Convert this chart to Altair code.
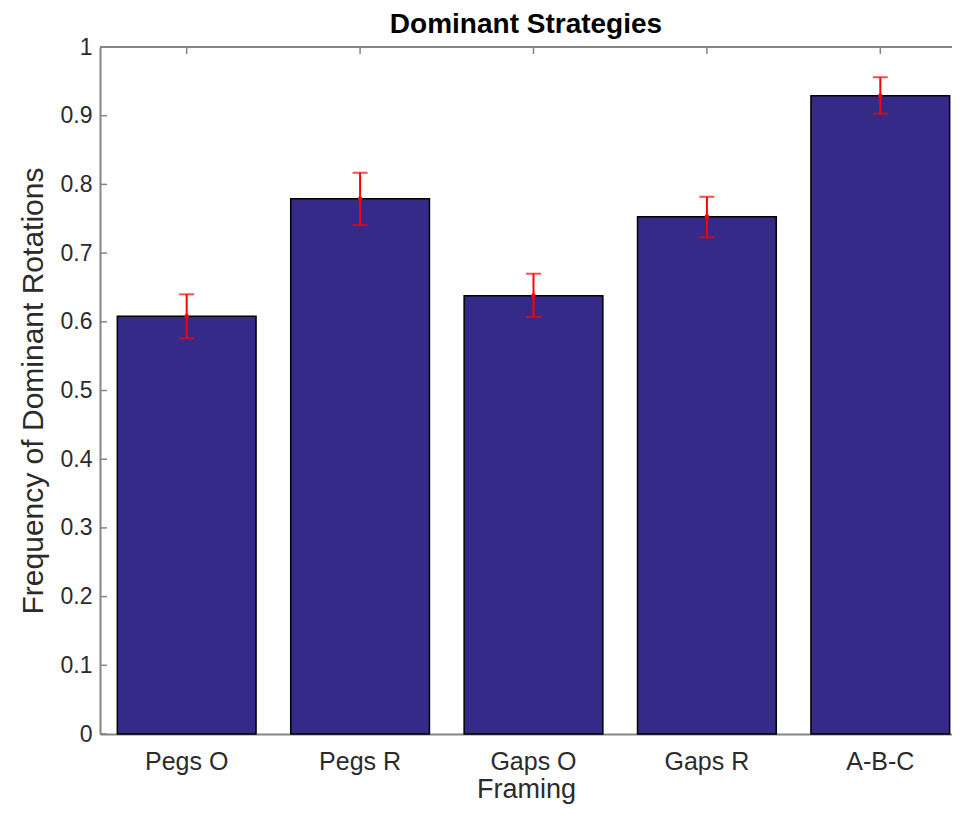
import altair as alt
import pandas as pd

categories = ["Pegs O", "Pegs R", "Gaps O", "Gaps R", "A-B-C"]
values = [0.608, 0.779, 0.638, 0.753, 0.929]
err_low = [0.576, 0.741, 0.607, 0.723, 0.903]
err_high = [0.640, 0.817, 0.670, 0.782, 0.956]
y_ticks = [0.0, 0.1, 0.2, 0.3, 0.4, 0.5, 0.6, 0.7, 0.8, 0.9, 1.0]

W = 867
VW = 852
H = 687
AXC = "#858585"
TXT = "#2b2b2b"
FONT = "Liberation Sans"

df = pd.DataFrame({"cat": categories, "val": values, "lo": err_low, "hi": err_high})
tdf = pd.DataFrame({"t": y_ticks})
one = pd.DataFrame({"a": [0]})

xs = alt.Scale(domain=categories, paddingInner=0.2, paddingOuter=0.0567, align=0.881)
ys = alt.Scale(domain=[0, 1], nice=False)

xaxis = alt.Axis(title="Framing", labelAngle=0, ticks=False, tickSize=0,
                 labelPadding=15, titlePadding=2, domainColor=AXC,
                 domainWidth=2, labelFontSize=25, titleFontSize=27,
                 labelFont=FONT, titleFont=FONT, labelColor=TXT,
                 titleColor=TXT, titleFontWeight="normal")
yaxis = alt.Axis(title="Frequency of Dominant Rotations", values=y_ticks,
                 format=".1~f", ticks=False, tickSize=0, labelPadding=8,
                 titlePadding=12, domainColor=AXC, domainWidth=2,
                 labelFontSize=23, titleFontSize=30, labelFont=FONT,
                 titleFont=FONT, labelColor=TXT, titleColor=TXT,
                 titleFontWeight="normal", grid=False)

X = alt.X("cat:N", scale=xs, sort=categories, axis=xaxis)


def Y(f):
    return alt.Y(f, scale=ys, axis=yaxis)


frame_top = alt.Chart(one).mark_rule(color=AXC, strokeWidth=2).encode(
    x=alt.value(0), x2=alt.value(W), y=alt.value(0))
frame_right = alt.Chart(one).mark_rule(color=AXC, strokeWidth=2).encode(
    x=alt.value(W), y=alt.value(0), y2=alt.value(H))

yt_left = alt.Chart(tdf).mark_rule(color=AXC, strokeWidth=1.5).encode(
    y=Y("t:Q"), x=alt.value(0), x2=alt.value(7))
yt_right = alt.Chart(tdf).mark_rule(color=AXC, strokeWidth=1.5).encode(
    y=Y("t:Q"), x=alt.value(W - 8), x2=alt.value(W))
xt_top = alt.Chart(df).mark_rule(color=AXC, strokeWidth=1.5).encode(
    x=X, y=alt.value(0), y2=alt.value(7))

bars = alt.Chart(df).mark_bar(color="#352A87", stroke="black", strokeWidth=1.5).encode(
    x=X, y=Y("val:Q"))

err = alt.Chart(df).mark_rule(color="red", strokeWidth=2).encode(
    x=X, y=Y("lo:Q"), y2="hi:Q")
cap_lo = alt.Chart(df).mark_tick(color="red", orient="horizontal", size=15, thickness=2).encode(
    x=X, y=Y("lo:Q"))
cap_hi = alt.Chart(df).mark_tick(color="red", orient="horizontal", size=15, thickness=2).encode(
    x=X, y=Y("hi:Q"))
dots = alt.Chart(df).mark_point(color="red", filled=True, size=22, opacity=1).encode(
    x=X, y=Y("val:Q"))

chart = alt.layer(
    yt_left, yt_right, xt_top, bars, err, cap_lo, cap_hi, dots, frame_top, frame_right
).properties(
    width=VW,
    height=H,
    autosize=alt.AutoSizeParams(type="none"),
    padding={"left": 92, "top": 39, "right": 0, "bottom": 71},
    title=alt.TitleParams("Dominant Strategies", fontSize=28, fontWeight="bold",
                          font=FONT, color="black", anchor="middle", offset=-3),
).configure_view(stroke=None).configure(background="white")

chart.save("out.html", embed_options={"renderer": "svg", "actions": False})
